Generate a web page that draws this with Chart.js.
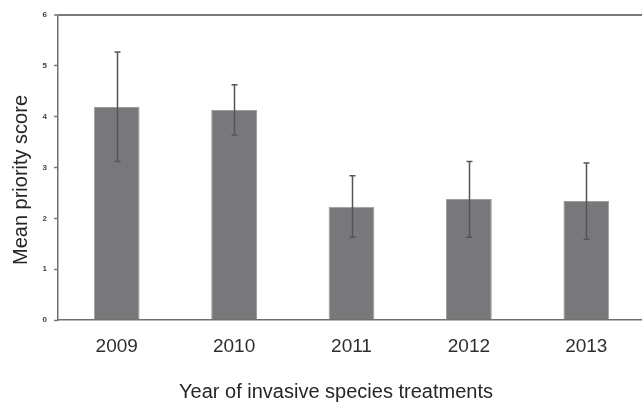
<!DOCTYPE html>
<html>
<head>
<meta charset="utf-8">
<script src="https://cdn.jsdelivr.net/npm/chart.js@4.4.0/dist/chart.umd.min.js"></script>
<style>
  html, body { margin: 0; padding: 0; background: #fff; overflow: hidden; }
  #wrap { position: relative; width: 645px; height: 405px; }
</style>
</head>
<body>
<div id="wrap"><canvas id="chart"></canvas></div>
<script>
// Treatment years and mean priority scores with their error ranges
const years = ['2009', '2010', '2011', '2012', '2013'];
const meanScores = [4.19, 4.13, 2.23, 2.38, 2.34];
const errorUpper = [5.27, 4.63, 2.84, 3.12, 3.09];
const errorLower = [3.12, 3.64, 1.63, 1.63, 1.59];
const yTicks = [0, 1, 2, 3, 4, 5, 6];

const xTitle = 'Year of invasive species treatments';
const yTitle = 'Mean priority score';

// Vertical error bars with small caps, drawn from the data arrays through the scales
const errorBars = {
  id: 'errorBars',
  afterDatasetsDraw(chart) {
    const { ctx, scales: { x, y } } = chart;
    ctx.save();
    ctx.strokeStyle = '#555558';
    ctx.lineWidth = 1.5;
    years.forEach((label, i) => {
      const cx = Math.round(x.getPixelForValue(i)) + 0.5;
      const top = y.getPixelForValue(errorUpper[i]);
      const bot = y.getPixelForValue(errorLower[i]);
      ctx.beginPath();
      ctx.moveTo(cx, top);
      ctx.lineTo(cx, bot);
      ctx.moveTo(cx - 3, top);
      ctx.lineTo(cx + 3, top);
      ctx.moveTo(cx - 3, bot);
      ctx.lineTo(cx + 3, bot);
      ctx.stroke();
    });
    ctx.restore();
  }
};

// Axis titles placed below and to the left of the plot
const axisTitles = {
  id: 'axisTitles',
  afterDraw(chart) {
    const { ctx } = chart;
    ctx.save();
    ctx.fillStyle = '#262626';
    ctx.font = '20px "Liberation Sans", Arial, sans-serif';
    ctx.textAlign = 'center';
    ctx.textBaseline = 'alphabetic';
    ctx.fillText(xTitle, 336, 398);
    ctx.translate(27, 180);
    ctx.rotate(-Math.PI / 2);
    ctx.fillText(yTitle, 0, 0);
    ctx.restore();
  }
};

new Chart(document.getElementById('chart'), {
  type: 'bar',
  data: {
    labels: years,
    datasets: [{
      data: meanScores,
      backgroundColor: '#78787b',
      borderColor: '#9e9ea0',
      borderWidth: 1,
      barPercentage: 0.39,
      categoryPercentage: 1.0
    }]
  },
  options: {
    responsive: true,
    maintainAspectRatio: false,
    animation: false,
    layout: { padding: { top: 15, right: 0, bottom: 0, left: 0 } },
    plugins: {
      legend: { display: false },
      tooltip: { enabled: false }
    },
    scales: {
      x: {
        offset: true,
        grid: { display: false },
        border: { display: true, color: '#6e6e6e', width: 1.5 },
        ticks: {
          color: '#2e2e2e',
          font: { family: '"Liberation Sans", Arial, sans-serif', size: 19 },
          padding: 7,
          maxRotation: 0
        },
        afterFit(scale) { scale.height = 85; }
      },
      y: {
        min: 0,
        max: 6,
        afterBuildTicks(scale) { scale.ticks = yTicks.map(v => ({ value: v })); },
        grid: {
          drawOnChartArea: true,
          color: ctx => (ctx.tick && ctx.tick.value === 6 ? '#7a7a7a' : 'rgba(0,0,0,0)'),
          lineWidth: ctx => (ctx.tick && ctx.tick.value === 6 ? 2 : 1),
          tickColor: '#7a7a7a',
          tickLength: 4,
          tickWidth: 1.5
        },
        border: { display: true, color: '#6e6e6e', width: 1.5 },
        ticks: {
          color: '#444',
          font: { family: '"Liberation Sans", Arial, sans-serif', size: 8, weight: 'bold' },
          padding: 7
        },
        afterFit(scale) { scale.width = 58; }
      }
    }
  },
  plugins: [errorBars, axisTitles]
});
</script>
</body>
</html>
